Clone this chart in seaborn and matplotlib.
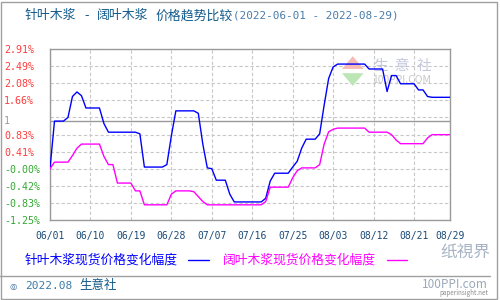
import matplotlib
matplotlib.use("Agg")
import matplotlib.pyplot as plt
import seaborn as sns
import pandas as pd
from matplotlib.lines import Line2D
from matplotlib.patches import Rectangle, Polygon

sns.set_style("white")
plt.rcParams['font.family'] = ['Noto Sans CJK SC', 'DejaVu Sans']

# ---- data ----
start_date = "2022-06-01"
end_date = "2022-08-29"
softwood = [0.00, 1.16, 1.16, 1.16, 1.25, 1.76, 1.87, 1.78, 1.48, 1.48,
            1.48, 1.48, 1.10, 0.89, 0.89, 0.89, 0.89, 0.89, 0.89, 0.89,
            0.85, 0.04, 0.04, 0.04, 0.04, 0.04, 0.10, 0.80, 1.41, 1.41,
            1.41, 1.41, 1.41, 1.35, 0.60, 0.02, 0.00, -0.28, -0.28, -0.28,
            -0.62, -0.81, -0.81, -0.81, -0.81, -0.81, -0.81, -0.81, -0.72, -0.30,
            -0.11, -0.11, -0.11, -0.11, 0.04, 0.18, 0.50, 0.72, 0.72, 0.72,
            0.85, 1.55, 2.20, 2.48, 2.55, 2.55, 2.55, 2.55, 2.55, 2.55,
            2.55, 2.43, 2.43, 2.43, 2.43, 1.88, 2.27, 2.27, 2.07, 2.07,
            2.07, 2.07, 1.92, 1.92, 1.76, 1.74, 1.74, 1.74, 1.74, 1.74]
hardwood = [0.00, 0.16, 0.16, 0.16, 0.16, 0.32, 0.50, 0.60, 0.60, 0.60,
            0.60, 0.60, 0.30, 0.10, 0.10, -0.35, -0.35, -0.35, -0.35, -0.54,
            -0.54, -0.88, -0.88, -0.88, -0.88, -0.88, -0.88, -0.62, -0.54, -0.54,
            -0.54, -0.54, -0.56, -0.68, -0.80, -0.88, -0.88, -0.88, -0.88, -0.88,
            -0.88, -0.88, -0.88, -0.88, -0.88, -0.88, -0.88, -0.88, -0.80, -0.45,
            -0.45, -0.45, -0.45, -0.45, -0.22, -0.05, 0.02, 0.02, 0.02, 0.02,
            0.10, 0.60, 0.90, 0.96, 0.99, 0.99, 0.99, 0.99, 0.99, 0.99,
            0.99, 0.89, 0.89, 0.89, 0.89, 0.89, 0.83, 0.70, 0.61, 0.61,
            0.61, 0.61, 0.61, 0.61, 0.75, 0.83, 0.83, 0.83, 0.83, 0.83]
xtick_labels = ["06/01", "06/10", "06/19", "06/28", "07/07", "07/16",
                "07/25", "08/03", "08/12", "08/21", "08/29"]
ytick_values = [-1.25, -0.833, -0.416, 0.0, 0.416, 0.832, 1.248, 1.664, 2.08, 2.496, 2.91]
ytick_labels = ["-1.25%", "-0.83%", "-0.42%", "-0.00%", "0.41%", "0.83%", "",
                "1.66%", "2.08%", "2.49%", "2.91%"]
ref_value = 1.16
ref_label = "1"
name_soft = "针叶木浆现货价格变化幅度"
name_hard = "阔叶木浆现货价格变化幅度"
title_parts = [("针叶木浆", 25), ("-", 84), ("阔叶木浆", 97), ("价格趋势比较", 156)]
title_range = "(2022-06-01 - 2022-08-29)"
watermark_chars = ["生", "意", "社"]

dates = pd.date_range(start_date, end_date)
df = pd.DataFrame({"date": list(dates) * 2,
                   "value": softwood + hardwood,
                   "series": [name_soft] * len(dates) + [name_hard] * len(dates)})

BLUE = "#0000ff"
MAG = "#ff00ff"
W, H = 500, 300

fig = plt.figure(figsize=(5, 3), dpi=100)
ax = fig.add_axes([50 / W, 1 - 220 / H, 400 / W, 170.7 / H])

grid_kw = dict(color="#c8c8c8", linewidth=0.8, linestyle=(0, (3, 2)))
ax.set_axisbelow(True)

sns.lineplot(data=df, x="date", y="value", hue="series",
             palette={name_soft: BLUE, name_hard: MAG},
             linewidth=1.0, legend=False, ax=ax, zorder=3)

ax.set_xlim(dates[0], dates[-1])
ax.set_ylim(ytick_values[0], ytick_values[-1])

tick_dates = [pd.Timestamp(f"2022-{t.replace('/', '-')}") for t in xtick_labels]
ax.set_xticks(tick_dates)
ax.set_xticklabels(xtick_labels, family="DejaVu Sans Mono", fontsize=7, color="#1a4a78")
ax.set_yticks(ytick_values)
ax.set_yticklabels(ytick_labels, family="DejaVu Sans Mono", fontsize=7.2, ha="left")
for lab, v in zip(ax.get_yticklabels(), ytick_values):
    lab.set_color("#ff3b3b" if v > 0.001 else "#33a833")
ax.tick_params(axis="both", length=0)
ax.tick_params(axis="y", pad=46 * 0.72)
ax.tick_params(axis="x", pad=8)
ax.grid(True, **grid_kw)
ax.set_xlabel("")
ax.set_ylabel("")
for s in ax.spines.values():
    s.set_color("#9a9a9a")
    s.set_linewidth(1.0)

# reference line "1"
ax.axhline(ref_value, color="#9a9a9a", linewidth=1.0, zorder=2)
ax.text(-46 / 400, ref_value, ref_label, transform=ax.get_yaxis_transform(),
        ha="left", va="center", fontsize=7.2, family="DejaVu Sans Mono", color="#9a9a9a")

# in-plot watermark
for ch, xf in zip(watermark_chars, [0.825, 0.879, 0.934]):
    ax.text(xf, 0.90, ch, transform=ax.transAxes, ha="center", va="center",
            fontsize=10.5, color="#c4c8dc", zorder=1)
ax.text(0.88, 0.82, "100PPI.COM", transform=ax.transAxes, ha="center", va="center",
        fontsize=7.5, color="#c8c8c8", zorder=1)
ax.add_patch(Polygon([[0.730, 0.885], [0.784, 0.885], [0.757, 0.96]], closed=True,
                     transform=ax.transAxes, color="#f6bcb4", zorder=1, lw=0))
ax.add_patch(Polygon([[0.730, 0.86], [0.784, 0.86], [0.757, 0.785]], closed=True,
                     transform=ax.transAxes, color="#bce6b4", zorder=1, lw=0))

# title
for txt, xp in title_parts:
    fig.text(xp / W, 1 - 16 / H, txt, fontsize=9.3, color="#125a8a", va="center")
fig.text(233 / W, 1 - 16 / H, title_range, fontsize=7.9, family="DejaVu Sans Mono",
         color="#4a7ca8", va="center")

# legend row
ly = 1 - 260 / H
fig.text(25 / W, ly, name_soft, fontsize=9.2, color=BLUE, va="center")
fig.add_artist(Line2D([188 / W, 209 / W], [ly, ly], color=BLUE, linewidth=1.0))
fig.text(223 / W, ly, name_hard, fontsize=9.2, color=MAG, va="center")
fig.add_artist(Line2D([387 / W, 407 / W], [ly, ly], color=MAG, linewidth=1.0))

# separator and footer
fig.add_artist(Line2D([0, 490 / W], [1 - 276 / H] * 2, color="#a0a0a0", linewidth=1.0))
fy = 1 - 286 / H
fig.text(9 / W, fy, "◎", fontsize=6, color="#3a6a98", va="center", family="DejaVu Sans")
fig.text(25 / W, fy, "2022.08", fontsize=8, family="DejaVu Sans Mono", color="#3a7aa8", va="center")
fig.text(79 / W, fy, "生意社", fontsize=9, color="#125a8a", va="center")

# bottom-right logo watermark
fig.text(490 / W, 1 - 252 / H, "纸視界", fontsize=12, color="#a8b4c4", ha="right",
         va="center", style="italic")
fig.text(488 / W, 1 - 284 / H, "100PPI.com", fontsize=8.5, color="#9aa8b8", ha="right",
         va="center")
fig.text(488 / W, 1 - 293 / H, "paperinsight.net", fontsize=4.5, color="#8a8a8a",
         ha="right", va="center")

# outer border
fig.add_artist(Rectangle((1 / W, 1 / H), 496 / W, 297 / H, fill=False,
                         edgecolor="#a0a0a0", linewidth=1.0, transform=fig.transFigure))

fig.savefig("out.png", dpi=100)
